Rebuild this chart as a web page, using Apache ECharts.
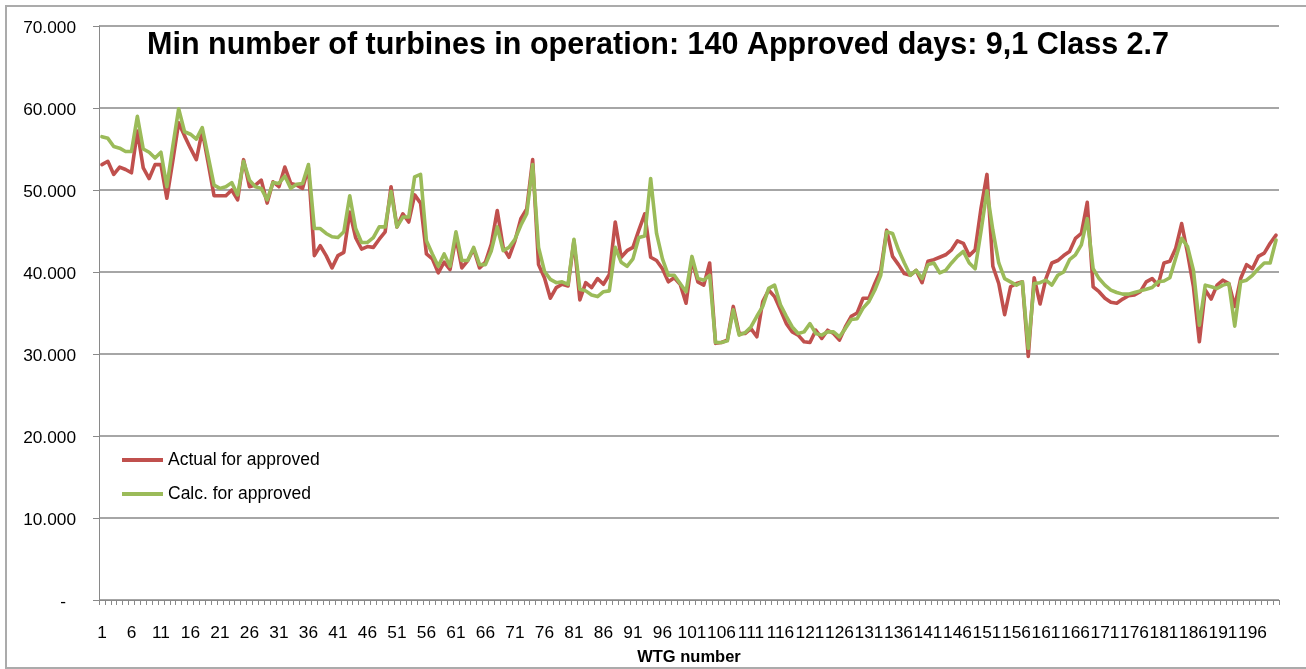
<!DOCTYPE html>
<html>
<head>
<meta charset="utf-8">
<title>Min number of turbines in operation</title>
<script src="https://cdn.jsdelivr.net/npm/echarts@6/dist/echarts.min.js"></script>
<style>
  html, body { margin: 0; padding: 0; background: #fff; overflow: hidden; }
  #frame { position: absolute; left: 5px; top: 5px; width: 1330px; height: 664px;
           border: 2px solid #ababab; box-sizing: border-box; }
  #chart { position: absolute; left: 0; top: 0; width: 1306px; height: 669px; }
</style>
</head>
<body>
<div id="frame"></div>
<div id="chart"></div>
<script>
// WTG numbers 1..200 on the category axis
const wtgNumbers = Array.from({ length: 200 }, (_, i) => String(i + 1));

// Actual value per turbine for the approved days
const actualForApproved = [
  53.1, 53.5, 51.9, 52.8, 52.5, 52.1, 57.2, 52.7, 51.4, 53.1,
  53.1, 49.0, 53.5, 58.2, 56.6, 55.1, 53.7, 57.2, 53.3, 49.3,
  49.3, 49.3, 50.0, 48.8, 53.7, 50.4, 50.6, 51.2, 48.4, 51.0,
  50.4, 52.8, 50.8, 50.6, 50.2, 52.7, 42.0, 43.2, 42.0, 40.5,
  42.0, 42.4, 47.3, 44.2, 42.8, 43.1, 43.0, 44.0, 44.9, 50.4,
  45.5, 47.1, 46.1, 49.4, 48.4, 42.2, 41.6, 39.9, 41.2, 40.3,
  44.2, 40.5, 41.4, 42.8, 40.5, 41.2, 43.4, 47.5, 43.0, 41.8,
  43.8, 46.5, 47.7, 53.7, 40.9, 39.3, 36.8, 38.1, 38.5, 38.3,
  43.8, 36.6, 38.7, 38.1, 39.2, 38.5, 39.7, 46.1, 41.8, 42.6,
  43.0, 45.1, 47.1, 41.8, 41.4, 40.4, 38.8, 39.3, 38.5, 36.2,
  41.5, 38.8, 38.4, 41.1, 31.3, 31.4, 31.7, 35.8, 32.5, 32.5,
  33.1, 32.1, 36.4, 37.8, 37.0, 35.4, 33.7, 32.7, 32.3, 31.5,
  31.4, 32.9, 31.9, 32.9, 32.5, 31.7, 33.3, 34.6, 35.0, 36.8,
  36.8, 38.6, 40.2, 45.1, 41.9, 40.9, 39.8, 39.6, 40.2, 38.7,
  41.3, 41.5, 41.8, 42.1, 42.7, 43.8, 43.5, 42.0, 42.7, 47.8,
  51.9, 40.7, 38.6, 34.8, 38.2, 38.6, 38.8, 29.7, 39.3, 36.1,
  39.2, 41.1, 41.4, 42.0, 42.5, 44.1, 44.7, 48.5, 38.2, 37.6,
  36.8, 36.3, 36.2, 36.7, 37.1, 37.2, 37.6, 38.8, 39.2, 38.4,
  41.1, 41.3, 42.9, 45.9, 42.3, 38.2, 31.5, 37.8, 36.7, 38.4,
  39.0, 38.6, 35.8, 39.2, 40.9, 40.4, 41.9, 42.3, 43.5, 44.5
];

// Calculated value per turbine for the approved days
const calcForApproved = [
  56.5, 56.3, 55.3, 55.1, 54.7, 54.7, 59.0, 55.0, 54.6, 53.9,
  54.6, 50.4, 55.3, 59.9, 57.1, 56.8, 56.2, 57.6, 54.1, 50.6,
  50.2, 50.4, 50.9, 49.4, 53.5, 51.2, 50.4, 50.2, 48.8, 50.9,
  50.8, 51.7, 50.2, 50.7, 50.8, 53.1, 45.3, 45.3, 44.7, 44.3,
  44.2, 44.9, 49.3, 45.3, 43.6, 43.6, 44.2, 45.5, 45.5, 49.8,
  45.5, 46.7, 46.7, 51.6, 51.9, 43.8, 42.2, 40.7, 42.2, 40.7,
  44.9, 41.4, 41.4, 43.0, 40.9, 40.9, 42.6, 45.5, 42.6, 43.0,
  44.0, 45.7, 47.1, 53.1, 43.0, 40.1, 39.1, 38.7, 38.8, 38.5,
  44.0, 37.9, 37.7, 37.2, 37.0, 37.6, 37.7, 43.0, 41.2, 40.7,
  41.6, 44.2, 44.4, 51.4, 44.7, 41.6, 39.6, 39.6, 38.6, 37.6,
  41.9, 39.2, 39.0, 39.6, 31.4, 31.4, 31.6, 35.4, 32.3, 32.6,
  33.3, 34.6, 35.8, 38.0, 38.4, 36.0, 34.6, 33.3, 32.5, 32.7,
  33.7, 32.5, 32.3, 32.7, 32.7, 32.1, 33.1, 34.2, 34.3, 35.6,
  36.4, 37.8, 39.6, 44.9, 44.7, 42.7, 41.1, 39.6, 40.2, 39.2,
  40.9, 41.1, 39.9, 40.2, 41.1, 41.9, 42.5, 41.1, 40.4, 45.0,
  49.9, 45.1, 41.1, 39.2, 38.8, 38.4, 38.8, 30.7, 38.6, 38.7,
  39.0, 38.4, 39.6, 40.0, 41.5, 42.1, 43.3, 46.5, 40.4, 39.2,
  38.4, 37.8, 37.5, 37.3, 37.3, 37.5, 37.7, 37.9, 38.1, 38.8,
  38.9, 39.3, 41.7, 44.1, 43.1, 40.2, 33.5, 38.4, 38.2, 38.0,
  38.4, 38.6, 33.4, 38.8, 39.0, 39.6, 40.4, 41.1, 41.1, 43.9
];

const seriesNames = ['Actual for approved', 'Calc. for approved'];
const seriesColors = ['#C0504D', '#9BBB59'];
const chartTitle = 'Min number of turbines in operation: 140 Approved days: 9,1 Class 2.7';
const xAxisTitle = 'WTG number';

const FONT = '"Liberation Sans", Arial, sans-serif';
const GRID_GREY = '#898989';

const chart = echarts.init(document.getElementById('chart'), null, { renderer: 'canvas' });

chart.setOption({
  animation: false,
  backgroundColor: 'transparent',
  textStyle: { fontFamily: FONT },
  graphic: [
    {
      type: 'text', x: 658, y: 46,
      style: {
        text: chartTitle, fill: '#000',
        font: 'bold 30.5px ' + FONT,
        align: 'center', verticalAlign: 'middle'
      }
    },
    {
      type: 'text', x: 689, y: 657,
      style: {
        text: xAxisTitle, fill: '#000',
        font: 'bold 16.5px ' + FONT,
        align: 'center', verticalAlign: 'middle'
      }
    }
  ],
  legend: {
    orient: 'vertical',
    left: 117, top: 445,
    icon: 'rect',
    itemWidth: 41, itemHeight: 4,
    itemGap: 14,
    textStyle: { fontSize: 17.5, color: '#000', fontFamily: FONT, lineHeight: 20 },
    data: seriesNames
  },
  grid: { left: 99, right: 27, top: 26, bottom: 69, containLabel: false },
  xAxis: {
    type: 'category',
    data: wtgNumbers,
    boundaryGap: true,
    axisLine: { show: true, lineStyle: { color: GRID_GREY, width: 1 } },
    axisTick: { show: true, interval: 0, length: 5, lineStyle: { color: GRID_GREY } },
    axisLabel: { interval: 4, margin: 25, fontSize: 17.3, color: '#000', fontFamily: FONT, hideOverlap: false },
    splitLine: { show: false }
  },
  yAxis: {
    type: 'value',
    min: 0, max: 70, interval: 10,
    axisLine: { show: true, lineStyle: { color: GRID_GREY, width: 1 } },
    axisTick: { show: true, length: 6, lineStyle: { color: GRID_GREY } },
    axisLabel: {
      margin: 23, fontSize: 17.3, color: '#000', fontFamily: FONT,
      padding: [4, 0, 0, 0],
      formatter: v => (v === 0 ? '{d|-}' : v.toFixed(3)),
      rich: { d: { fontSize: 17.3, fontFamily: FONT, color: '#000', padding: [0, 10, 0, 0] } }
    },
    splitLine: { show: true, lineStyle: { color: GRID_GREY, width: 1.5 } }
  },
  series: [
    {
      name: seriesNames[0], type: 'line', data: actualForApproved,
      color: seriesColors[0], showSymbol: false, symbol: 'none',
      lineStyle: { width: 3.6, color: seriesColors[0], join: 'round', cap: 'round' }
    },
    {
      name: seriesNames[1], type: 'line', data: calcForApproved,
      color: seriesColors[1], showSymbol: false, symbol: 'none',
      lineStyle: { width: 3.6, color: seriesColors[1], join: 'round', cap: 'round' }
    }
  ]
});
</script>
</body>
</html>
